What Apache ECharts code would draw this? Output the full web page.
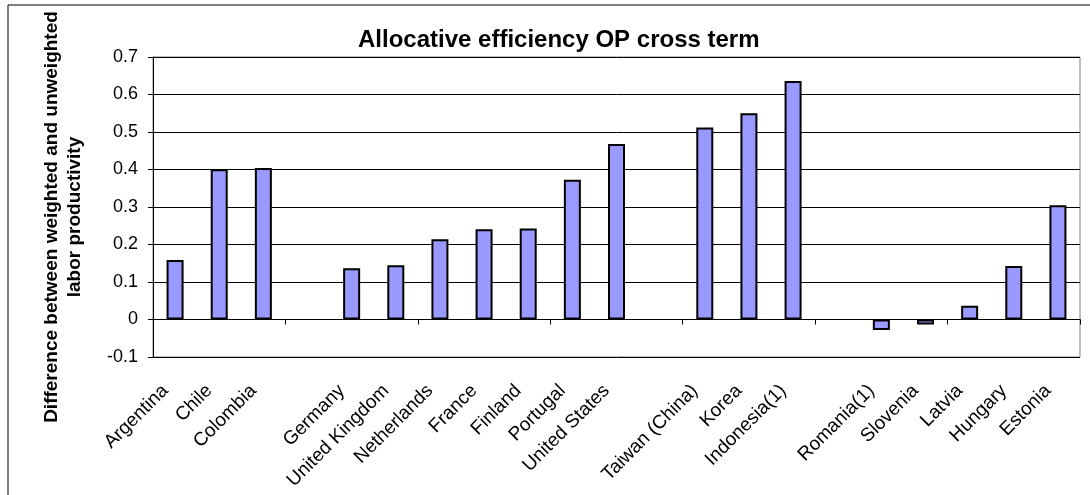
<!DOCTYPE html>
<html>
<head>
<meta charset="utf-8">
<script src="https://cdn.jsdelivr.net/npm/echarts@6/dist/echarts.min.js"></script>
<style>
  html, body { margin: 0; padding: 0; background: #fff; }
  #chart { width: 1090px; height: 495px; }
</style>
</head>
<body>
<div id="chart"></div>
<script>
// categories ('' = empty gap slot between country groups)
var categories = ['Argentina', 'Chile', 'Colombia', '',
  'Germany', 'United Kingdom', 'Netherlands', 'France', 'Finland', 'Portugal', 'United States', '',
  'Taiwan (China)', 'Korea', 'Indonesia(1)', '',
  'Romania(1)', 'Slovenia', 'Latvia', 'Hungary', 'Estonia'];
// difference between weighted and unweighted labor productivity
var values = [0.159, 0.401, 0.404, null,
  0.137, 0.145, 0.214, 0.241, 0.243, 0.373, 0.468, null,
  0.512, 0.550, 0.636, null,
  -0.028, -0.013, 0.037, 0.143, 0.305];
var yMin = -0.1, yMax = 0.7, yStep = 0.1;

var chart = echarts.init(document.getElementById('chart'));
var font = 'Liberation Sans, Arial, sans-serif';

var option = {
  backgroundColor: '#fff',
  animation: false,
  title: {
    text: 'Allocative efficiency OP cross term',
    left: 353,
    top: 23,
    textStyle: { fontFamily: font, fontSize: 24, fontWeight: 'bold', color: '#000' }
  },
  graphic: [
    {
      type: 'rect',
      shape: { x: 8, y: 5, width: 1100, height: 500 },
      style: { fill: 'none', stroke: '#000', lineWidth: 1 },
      silent: true
    },
    {
      type: 'text',
      x: 63, y: 217,
      rotation: Math.PI / 2,
      style: {
        text: 'Difference between weighted and unweighted\nlabor productivity',
        font: 'bold 19px ' + font,
        fill: '#000',
        align: 'center',
        verticalAlign: 'middle',
        lineHeight: 23
      }
    }
  ],
  grid: {
    left: 153, top: 57, right: 10, bottom: 138,
    show: true, borderColor: '#808080', borderWidth: 1
  },
  xAxis: [
    {
      type: 'category',
      data: categories,
      axisLine: { onZero: true, lineStyle: { color: '#000', width: 1 } },
      axisTick: { show: true, length: 5, lineStyle: { color: '#000' } },
      axisLabel: { show: false },
      splitLine: { show: false }
    },
    {
      type: 'category',
      data: categories,
      position: 'bottom',
      axisLine: { show: false, onZero: false },
      axisTick: { show: false },
      axisLabel: {
        show: true, interval: 0, rotate: 45, margin: 21,
        padding: [0, 14, 0, 0],
        fontFamily: font, fontSize: 19, color: '#000'
      },
      splitLine: { show: false }
    }
  ],
  yAxis: {
    type: 'value',
    min: yMin, max: yMax, interval: yStep,
    axisLine: { show: true, lineStyle: { color: '#000', width: 1 } },
    axisTick: { show: true, length: 5, lineStyle: { color: '#000' } },
    axisLabel: {
      margin: 15, fontFamily: font, fontSize: 18, color: '#000',
      formatter: function (v) { return String(Math.round(v * 10) / 10); }
    },
    splitLine: { show: true, lineStyle: { color: '#000', width: 1 } }
  },
  series: [{
    type: 'bar',
    xAxisIndex: 0,
    data: values,
    barWidth: 17,
    itemStyle: { color: '#9999FF', borderColor: '#000', borderWidth: 2 }
  }]
};

chart.setOption(option);
</script>
</body>
</html>
